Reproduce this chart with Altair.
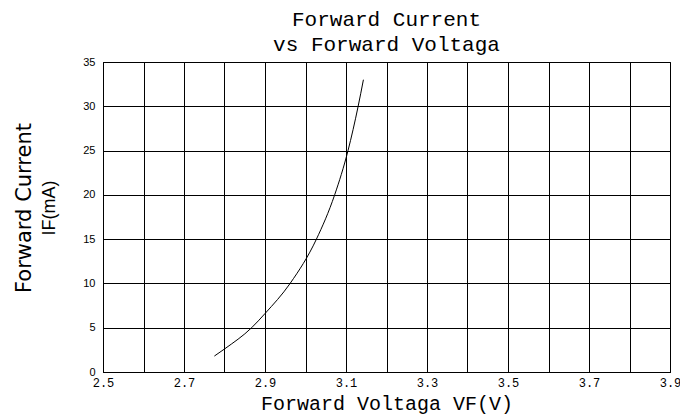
import altair as alt
import pandas as pd

vf = [2.775, 2.80, 2.867, 2.90, 2.962, 3.027, 3.072, 3.105, 3.130, 3.143]
if_ma = [1.8, 2.6, 5.0, 6.6, 10.0, 15.0, 20.0, 25.0, 30.0, 33.0]

x_grid = [round(2.5 + 0.1 * i, 1) for i in range(15)]
y_grid = [0, 5, 10, 15, 20, 25, 30, 35]

y_title_1 = "Forward Current"
y_title_2 = "IF(mA)"

df = pd.DataFrame({"vf": vf, "current": if_ma})

mono = "Liberation Mono"
sans = "Liberation Sans"

line = alt.Chart(df).mark_line(color="black", strokeWidth=1, interpolate="monotone").encode(
    x=alt.X("vf:Q", scale=alt.Scale(domain=[2.5, 3.9], nice=False, zero=False),
            axis=alt.Axis(values=x_grid, title="Forward Voltaga VF(V)",
                          labelExpr="(round(datum.value*10) % 2 == 1) ? format(datum.value, '.1f') : ''",
                          labelFont=mono, labelFontSize=12, labelColor="black", labelPadding=5,
                          labelOverlap=False,
                          titleFont=mono, titleFontSize=20, titleFontWeight="normal", titleColor="black",
                          titlePadding=5, ticks=False, grid=True, gridColor="black", gridOpacity=1,
                          domainColor="black", labelFlush=False)),
    y=alt.Y("current:Q", scale=alt.Scale(domain=[0, 35], nice=False), title=None,
            axis=alt.Axis(values=y_grid,
                          labelFont=sans, labelFontSize=11, labelColor="black", labelPadding=8,
                          labelOverlap=False, ticks=False, grid=True, gridColor="black",
                          gridOpacity=1, domainColor="black", labelFlush=False)),
)

t1 = alt.Chart(pd.DataFrame({"t": [y_title_1]})).mark_text(
    angle=270, align="center", baseline="middle", font="DejaVu Sans", fontSize=21, color="black"
).encode(text="t:N", x=alt.value(-78), y=alt.value(146))

t2 = alt.Chart(pd.DataFrame({"t": [y_title_2]})).mark_text(
    angle=270, align="center", baseline="middle", font=sans, fontSize=18, color="black"
).encode(text="t:N", x=alt.value(-53), y=alt.value(146))

chart = alt.layer(line, t1, t2).properties(
    width=567, height=310,
    title=alt.TitleParams(["Forward Current", "vs Forward Voltaga"], font=mono, fontSize=21,
                          fontWeight="normal", color="black", lineHeight=25, offset=1,
                          anchor="middle"),
    autosize=alt.AutoSizeParams(type="none"),
    padding={"left": 95, "top": 54, "right": 10, "bottom": 46},
).configure_view(stroke="black", strokeWidth=1)

chart.save("out.html", embed_options={"renderer": "svg", "actions": False})
